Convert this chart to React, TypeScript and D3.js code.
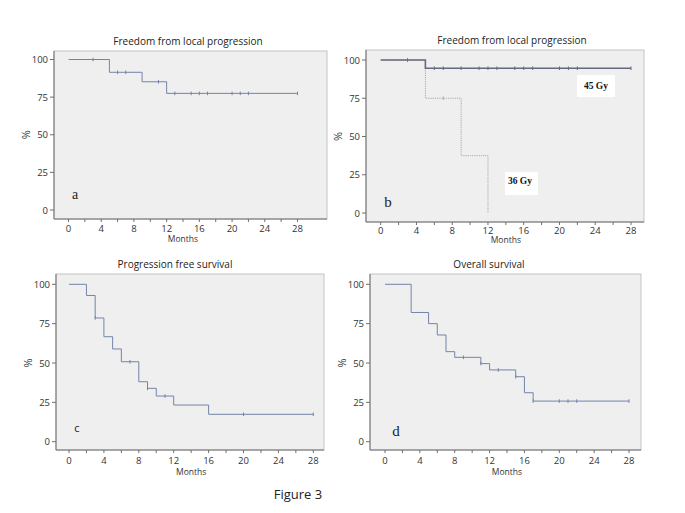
import React from "react";
import * as d3 from "d3";

// ---- data ----
const xTicks = [0, 4, 8, 12, 16, 20, 24, 28];
const xMinorTicks = [2, 6, 10, 14, 18, 22, 26];
const yTicks = [0, 25, 50, 75, 100];

const titles = [
  "Freedom from local progression",
  "Freedom from local progression",
  "Progression free survival",
  "Overall survival",
];
const panelLetters = ["a", "b", "c", "d"];

// Panel a
const aTimes = [0, 5, 9, 12, 28];
const aValues = [100, 91.5, 85.2, 77.5, 77.5];
const aCensors = [3, 6, 7, 11, 13, 15, 16, 17, 20, 21, 22, 28];

// Panel b – 45 Gy
const b45Times = [0, 5, 28];
const b45Values = [100, 94.6, 94.6];
const b45Censors = [3, 6, 7, 9, 11, 12, 13, 15, 16, 17, 20, 21, 22, 28];
// Panel b – 36 Gy
const b36Times = [0, 5, 9, 12];
const b36Values = [100, 75, 37.5, 0];
const b36Censors = [7];
const groupLabels = ["45 Gy", "36 Gy"];

// Panel c
const cTimes = [0, 2, 3, 4, 5, 6, 8, 9, 10, 12, 16, 28];
const cValues = [100, 92.9, 78.6, 66.7, 58.9, 50.8, 38.1, 33.9, 29.0, 23.3, 17.4, 17.4];
const cCensors = [3, 7, 9, 11, 20, 28];

// Panel d
const dTimes = [0, 3, 5, 6, 7, 8, 11, 12, 15, 16, 17, 28];
const dValues = [100, 82.1, 75.0, 67.8, 57.2, 53.6, 49.6, 45.6, 41.3, 31.1, 25.8, 25.8];
const dCensors = [9, 11, 13, 15, 17, 20, 21, 22, 28];

// ---- layout ----
type Box = { fx0: number; fx1: number; fy0: number; fy1: number; x0: number; x1: number; y0: number; y1: number };
const boxes: Box[] = [
  { fx0: 54, fx1: 327, fy0: 51, fy1: 219, x0: 68.5, x1: 297.5, y0: 210, y1: 59.5 },
  { fx0: 366, fx1: 644, fy0: 50, fy1: 222, x0: 380.7, x1: 631, y0: 213, y1: 60 },
  { fx0: 56, fx1: 324, fy0: 274, fy1: 450, x0: 69, x1: 313.3, y0: 441.7, y1: 284.3 },
  { fx0: 370, fx1: 641, fy0: 274, fy1: 450, x0: 385, x1: 629, y0: 441.7, y1: 284.3 },
];

const LINE = "#7384a8";
const AXIS = "#6f6f6f";
const sans = "'Open Sans', 'Noto Sans', sans-serif";
const serif = "'Liberation Serif', 'DejaVu Serif', serif";

function stepValue(times: number[], values: number[], t: number) {
  let v = values[0];
  for (let i = 0; i < times.length; i++) if (times[i] <= t) v = values[i];
  return v;
}

type Curve = { times: number[]; values: number[]; censors: number[]; color: string; width: number; dash?: string };

function Panel({ i, curves, letterFont, letterSize }: { i: number; curves: Curve[]; letterFont: string; letterSize: number }) {
  const b = boxes[i];
  const x = d3.scaleLinear().domain([0, 28]).range([b.x0, b.x1]);
  const y = d3.scaleLinear().domain([0, 100]).range([b.y0, b.y1]);
  const line = d3
    .line<[number, number]>()
    .x((d) => x(d[0]))
    .y((d) => y(d[1]))
    .curve(d3.curveStepAfter);
  const titleX = [188, 512, 175, 489][i];
  const tickY = [231.5, 233.5, 464, 464][i];
  const monthsY = [242, 242.5, 475, 475][i];
  const pctX = b.fx0 - 24;
  return (
    <g>
      <rect x={b.fx0} y={b.fy0} width={b.fx1 - b.fx0} height={b.fy1 - b.fy0} fill="#efefef" stroke="#c4c4c4" strokeWidth={1} />
      <line x1={b.fx0} x2={b.fx0} y1={b.fy0} y2={b.fy1} stroke={AXIS} />
      <line x1={b.fx0} x2={b.fx1} y1={b.fy1} y2={b.fy1} stroke={AXIS} />
      {yTicks.map((t) => (
        <g key={"y" + t}>
          <line x1={b.fx0 - 4} x2={b.fx0} y1={y(t)} y2={y(t)} stroke={AXIS} />
          <text x={b.fx0 - 6} y={y(t) + 3.5} textAnchor="end" fontFamily={sans} fontSize={9.5} fill="#333">
            {t}
          </text>
        </g>
      ))}
      {xTicks.map((t) => (
        <g key={"x" + t}>
          <line x1={x(t)} x2={x(t)} y1={b.fy1} y2={b.fy1 + 3} stroke={AXIS} />
          <text x={x(t)} y={tickY} textAnchor="middle" fontFamily={sans} fontSize={9.5} fill="#333">
            {t}
          </text>
        </g>
      ))}
      {xMinorTicks.map((t) => (
        <line key={"m" + t} x1={x(t)} x2={x(t)} y1={b.fy1} y2={b.fy1 + 3} stroke={AXIS} />
      ))}
      <text x={titleX} y={b.fy0 - 6} textAnchor="middle" fontFamily={sans} fontSize={10} fill="#222">
        {titles[i]}
      </text>
      <text x={(x(0) + x(28)) / 2} y={monthsY} textAnchor="middle" fontFamily={sans} fontSize={8.5} fill="#333">
        Months
      </text>
      <text
        transform={`translate(${pctX},${y(50)}) rotate(-90)`}
        textAnchor="middle"
        fontFamily={sans}
        fontSize={11}
        fill="#333"
      >
        %
      </text>
      {curves.map((c, k) => (
        <g key={"c" + k}>
          <path
            d={line(c.times.map((t, j) => [t, c.values[j]] as [number, number])) || ""}
            fill="none"
            stroke={c.color}
            strokeWidth={c.width}
            strokeDasharray={c.dash}
          />
          {c.censors.map((t) => {
            const v = stepValue(c.times, c.values, t);
            return <line key={t} x1={x(t)} x2={x(t)} y1={y(v) - 1.8} y2={y(v) + 1.8} stroke={c.color} strokeWidth={1} />;
          })}
        </g>
      ))}
      <text x={[75, 388, 77, 396][i]} y={[199, 207, 432, 436][i]} textAnchor="middle" fontFamily={letterFont} fontSize={letterSize} fill="#222">
        {panelLetters[i]}
      </text>
    </g>
  );
}

export default function App() {
  return (
    <svg width={685} height={513} style={{ display: "block", position: "absolute", left: 0, top: 0, background: "#fff" }}>
      <rect x={0} y={0} width={685} height={513} fill="#fff" />
      <Panel i={0} letterFont={serif} letterSize={14} curves={[{ times: aTimes, values: aValues, censors: aCensors, color: LINE, width: 1 }]} />
      <Panel
        i={1}
        letterFont={serif}
        letterSize={15}
        curves={[
          { times: b36Times, values: b36Values, censors: b36Censors, color: "#a9a9b0", width: 1, dash: "1.2,1" },
          { times: b45Times, values: b45Values, censors: b45Censors, color: "#646a80", width: 1.6 },
        ]}
      />
      <Panel i={2} letterFont={sans} letterSize={11} curves={[{ times: cTimes, values: cValues, censors: cCensors, color: LINE, width: 1 }]} />
      <Panel i={3} letterFont={serif} letterSize={15} curves={[{ times: dTimes, values: dValues, censors: dCensors, color: LINE, width: 1 }]} />
      {/* group labels in panel b */}
      <rect x={577} y={75} width={38} height={22} fill="#fff" />
      <text x={596} y={89} textAnchor="middle" fontFamily={serif} fontWeight="bold" fontSize={9.5} fill="#111">
        {groupLabels[0]}
      </text>
      <rect x={505} y={172} width={33} height={23} fill="#fff" />
      <text x={520} y={184} textAnchor="middle" fontFamily={serif} fontWeight="bold" fontSize={9.5} fill="#111">
        {groupLabels[1]}
      </text>
      <text x={298} y={499} textAnchor="middle" fontFamily="'Open Sans', sans-serif" fontSize={13} fill="#222">
        Figure 3
      </text>
    </svg>
  );
}
